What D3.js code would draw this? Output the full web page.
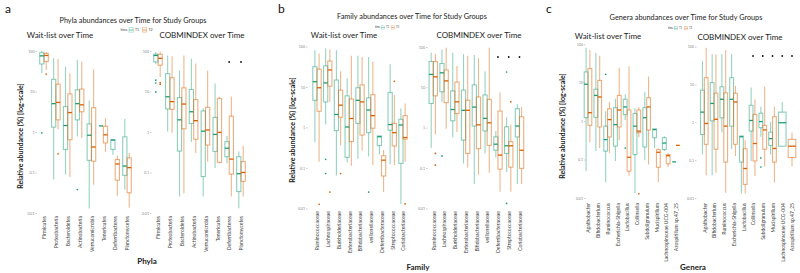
<!DOCTYPE html>
<html><head><meta charset="utf-8">
<script src="https://cdn.jsdelivr.net/npm/d3@7"></script>
<style>body{margin:0;background:#fff}svg{display:block}text{font-family:Lato,"Open Sans",sans-serif}</style>
</head><body><svg id="chart" width="800" height="273"></svg>
<script>
// ---- DATA (values are log10 of relative abundance in %: [whiskerLow, Q1, median, Q3, whiskerHigh]) ----
const yTickValues = [0.01, 0.1, 1, 10, 100];
const yTickLabels = ["0.01", "0.1", "1", "10", "100"];
const timeLabels = ["T1", "T2"];

const phylaCats = ["Firmicutes","Proteobacteria","Bacteroidetes","Actinobacteria","Verrucomicrobia","Tenericutes","Deferribacteres","Planctomycetes"];
const phylaWaitT1 = [[1.45,1.68,1.88,1.96,2.0],[-1.17,0.12,0.70,1.30,1.82],[-1.05,-0.43,0.16,0.63,1.61],[-0.11,0.30,0.70,1.04,1.78],[-1.89,-0.70,-0.08,0.20,0.78],[0.15,0.15,0.15,0.15,0.15],[-0.56,-0.43,-0.20,-0.19,-0.18],[-1.42,-1.07,-0.84,-0.12,0.32]];
const phylaWaitT2 = [[1.53,1.74,1.89,1.94,1.98],[0.06,0.30,0.73,1.18,1.80],[-1.11,-0.19,0.48,0.94,1.45],[-0.15,0.50,0.67,1.06,1.74],[-1.30,-0.72,-0.37,0.60,1.55],[-0.49,-0.27,-0.07,0.14,0.34],[-1.58,-1.19,-0.79,-0.68,-0.58],[-1.87,-1.50,-0.88,-0.64,-0.52]];
const phylaWaitOut = [[0,"T1",-0.02],[0,"T2",1.43],[1,"T2",-0.54],[3,"T1",-1.42]];
const phylaCobT1 = [[1.67,1.73,1.89,1.92,1.98],[0.01,0.57,0.87,1.44,1.89],[-1.59,-0.47,0.30,0.85,1.52],[-0.24,0.21,0.50,1.05,1.81],[-1.59,-1.10,0.02,0.52,0.58],[-0.89,-0.48,-0.06,0.36,1.20],[-0.77,-0.61,-0.40,-0.24,-0.10],[-1.88,-1.47,-1.03,-0.61,-0.48]];
const phylaCobT2 = [[1.36,1.65,1.82,1.92,1.98],[-0.02,0.56,0.75,1.34,1.87],[-1.51,0.08,0.69,1.09,1.89],[-0.52,-0.18,0.28,0.80,1.69],[-0.73,-0.32,0.05,0.61,1.51],[-0.77,-0.75,-0.01,0.83,0.87],[-1.59,-1.04,-0.67,0.39,0.87],[-1.59,-1.22,-1.00,-0.73,-0.34]];
const phylaCobOut = [[0,"T1",1.28],[0,"T1",1.21],[0,"T1",0.99],[0,"T2",1.22],[0,"T2",1.18]];
const phylaSig = ["Deferribacteres","Planctomycetes"];

const famCats = ["Ruminococcaceae","Lachnospiraceae","Burkholderiaceae","Enterobacteriaceae","Bifidobacteriaceae","veillonellaceae","Deferribacteraceae","Streptococcaceae","Coriobacteriaceae"];
const famWaitT1 = [[-0.37,0.67,1.13,1.50,1.91],[0.07,0.63,1.10,1.52,1.95],[-1.19,-0.08,0.32,1.17,1.91],[-0.87,-0.74,0.01,0.78,1.21],[-0.78,0.10,0.67,0.98,1.77],[-0.72,-0.13,0.43,0.73,1.74],[-0.67,-0.45,-0.23,-0.21,-0.21],[-0.91,-0.07,0.07,0.86,1.56],[-1.90,-0.89,0.06,0.20,0.47]];
const famWaitT2 = [[-0.85,0.40,0.98,1.44,1.83],[0.63,1.02,1.42,1.64,1.93],[-0.44,0.25,0.55,0.92,1.39],[-0.95,-0.35,0.22,0.70,1.77],[-0.58,-0.19,0.63,1.05,1.74],[-0.93,-0.02,0.29,0.81,1.62],[-1.60,-1.20,-0.81,-0.70,-0.56],[-0.93,-0.46,-0.13,0.10,0.80],[-0.85,-0.29,-0.25,0.29,0.59]];
const famWaitOut = [[0,"T2",-1.90],[1,"T1",-0.79],[1,"T1",-1.14],[1,"T2",-1.60],[2,"T2",-1.14],[5,"T1",-1.60],[7,"T2",1.14],[8,"T2",-1.89]];
const famCobT1 = [[-0.50,0.60,1.32,1.64,1.86],[0.64,0.89,1.36,1.59,1.94],[-0.23,0.17,0.45,0.91,1.86],[-0.89,-0.31,0.43,0.93,1.82],[-1.40,0.04,0.51,1.06,1.80],[-0.64,-0.08,0.23,0.81,1.40],[-0.74,-0.56,-0.41,-0.23,-0.08],[-1.10,-0.64,-0.45,0.02,0.26],[-1.40,-0.23,0.04,0.47,0.58]];
const famCobT2 = [[-0.17,0.79,1.26,1.64,1.83],[-0.03,0.62,1.16,1.43,1.98],[-0.11,0.35,0.64,1.13,1.53],[-0.99,-0.64,0.43,0.68,1.78],[-1.17,-0.52,0.07,0.76,1.72],[-1.12,-0.44,0.12,0.70,1.98],[-1.59,-1.03,-0.68,0.41,0.87],[-1.59,-0.98,-0.45,-0.35,0.07],[-1.40,-1.01,-0.56,0.27,0.51]];
const famCobOut = [[0,"T2",-0.64],[0,"T2",-0.93],[1,"T1",-0.70],[7,"T1",1.38],[7,"T1",-1.88],[7,"T2",0.64]];
const famSig = ["Deferribacteraceae","Streptococcaceae","Coriobacteriaceae"];

const genCats = ["Agathobacter","Bifidobacterium","Ruminococcus","Escherichia-Shigella","Lactobacillus","Collinsella","Subdoligranulum","Mucispirillum","Lachnospiraceae UCG-004","Azospirillum sp.47_25"];
const genWaitT1 = [[-1.30,0.09,0.96,1.28,1.91],[-0.78,0.10,0.67,0.83,1.78],[-1.59,-0.78,-0.48,-0.13,0.26],[-1.04,-0.65,-0.09,0.35,0.58],[0.03,0.17,0.37,0.57,0.70],[-1.87,-0.87,-0.13,0.20,0.35],[-1.02,-0.67,0.09,0.35,0.76],[-0.70,-0.43,-0.22,-0.20,-0.20],[-0.78,-0.74,-0.57,-0.43,-0.39],[-1.06,-1.06,-1.06,-1.06,-1.06]];
const genWaitT2 = [[-0.55,-0.11,0.22,1.37,1.85],[-0.70,-0.15,0.63,1.06,1.70],[-0.83,-0.41,0.04,0.32,0.50],[-0.50,-0.15,0.29,0.67,1.39],[-1.42,-1.30,-0.94,0.29,1.43],[-0.42,-0.30,-0.26,0.29,0.37],[-1.13,-0.23,0.37,0.61,1.16],[-1.59,-1.20,-0.81,-0.74,-0.71],[-1.19,-1.11,-0.90,-0.87,-0.83],[-0.63,-0.63,-0.63,-0.63,-0.63]];
const genWaitOut = [[2,"T1",1.22],[4,"T1",-0.70],[5,"T2",-1.89]];
const genCobT1 = [[-0.85,-0.32,0.27,0.85,1.62],[-1.40,0.04,0.50,1.05,1.80],[-0.27,0.12,0.61,0.94,1.80],[-0.71,-0.10,0.61,1.18,1.80],[-1.88,-1.05,-0.38,-0.36,-0.36],[-1.02,-0.23,0.05,0.45,0.92],[-0.38,-0.14,0.02,0.24,0.41],[-0.85,-0.61,-0.43,-0.26,0.01],[-0.64,-0.63,-0.01,0.27,0.54],null];
const genCobT2 = [[-1.40,-0.58,-0.03,1.18,1.97],[-1.33,-0.71,0.08,0.77,1.80],[-1.86,-1.05,-0.10,0.78,1.91],[-0.89,-0.58,0.54,0.77,0.96],[-1.88,-1.64,-1.22,-0.70,-0.47],[-1.42,-1.02,-0.56,0.21,0.61],[-1.17,-0.71,-0.20,-0.08,0.94],[-1.59,-1.05,-0.69,0.15,0.41],null,[-1.17,-0.93,-0.63,-0.45,-0.27]];
const genCobOut = [[6,"T1",-0.94],[6,"T1",-1.18]];
const genSig = ["Collinsella","Subdoligranulum","Mucispirillum","Lachnospiraceae UCG-004","Azospirillum sp.47_25"];

// ---- DRAWING ----
const svg = d3.select("#chart");
const color = d3.scaleOrdinal().domain(timeLabels).range(["#1b9e77", "#d95f02"]);
const FONT = 'Lato,"Open Sans",sans-serif';

function drawSub(cfg) {
  const x = d3.scalePoint().domain(cfg.cats).range(cfg.xr);
  const y = d3.scaleLog().domain([0.01, 100]).range(cfg.yr);
  const g = svg.append("g");
  const val = v => y(Math.pow(10, v));

  const ya = g.append("g").attr("transform", `translate(${cfg.axisX},0)`)
    .call(d3.axisLeft(y).tickValues(yTickValues).tickFormat((d, i) => yTickLabels[i]).tickSize(1.5).tickPadding(1));
  ya.select(".domain").remove();
  ya.selectAll("line").attr("stroke", "#999").attr("stroke-width", 0.5);
  ya.selectAll("text").attr("font-size", 3.6).attr("fill", "#888").attr("font-family", FONT);

  const xa = g.append("g").attr("transform", `translate(0,${cfg.labelY})`)
    .call(d3.axisBottom(x).tickSize(0).tickPadding(0));
  xa.select(".domain").remove();
  xa.selectAll("text").attr("transform", "rotate(-90)").attr("text-anchor", "end")
    .attr("x", 0).attr("y", 0).attr("dy", "0.35em")
    .attr("font-size", cfg.labelSize).attr("fill", "#444").attr("font-family", FONT);

  const series = [["T1", cfg.t1], ["T2", cfg.t2]];
  series.forEach(([t, arr]) => {
    const other = t === "T1" ? cfg.t2 : cfg.t1;
    arr.forEach((b, i) => {
      if (!b) return;
      const single = !other[i];
      const w = single ? cfg.w * 2 : cfg.w;
      const cx = x(cfg.cats[i]) + (single ? 0 : (t === "T1" ? -cfg.dodge : cfg.dodge));
      const c = color(t);
      const bg = g.append("g");
      bg.append("line").attr("x1", cx).attr("x2", cx).attr("y1", val(b[3])).attr("y2", val(b[4]))
        .attr("stroke", c).attr("stroke-opacity", 0.45).attr("stroke-width", 1.1);
      bg.append("line").attr("x1", cx).attr("x2", cx).attr("y1", val(b[1])).attr("y2", val(b[0]))
        .attr("stroke", c).attr("stroke-opacity", 0.45).attr("stroke-width", 1.1);
      bg.append("rect").attr("x", cx - w / 2).attr("width", w)
        .attr("y", val(b[3])).attr("height", Math.max(0, val(b[1]) - val(b[3])))
        .attr("fill", "none").attr("stroke", c).attr("stroke-opacity", 0.5).attr("stroke-width", 1.1);
      bg.append("line").attr("x1", cx - w / 2).attr("x2", cx + w / 2).attr("y1", val(b[2])).attr("y2", val(b[2]))
        .attr("stroke", c).attr("stroke-width", 1.3);
    });
  });
  g.selectAll("circle.out").data(cfg.out).enter().append("circle")
    .attr("cx", d => x(cfg.cats[d[0]]) + (d[1] === "T1" ? -cfg.dodge : cfg.dodge))
    .attr("cy", d => val(d[2])).attr("r", 0.85).attr("fill", d => color(d[1]));
  g.selectAll("circle.sig").data(cfg.sig).enter().append("circle")
    .attr("cx", d => x(d)).attr("cy", cfg.sigY).attr("r", 0.9).attr("fill", "#111");
}

function legend(x0, y0, s) {
  const g = svg.append("g").attr("transform", `translate(${x0},${y0}) scale(${s})`);
  g.append("text").attr("x", 0).attr("y", 1.3).attr("font-size", 3.6).attr("fill", "#444").text("time");
  timeLabels.forEach((t, i) => {
    const kx = 8.5 + i * 13.5;
    g.append("rect").attr("x", kx).attr("y", -2.3).attr("width", 4.2).attr("height", 4.4)
      .attr("fill", "none").attr("stroke", color(t)).attr("stroke-opacity", 0.5).attr("stroke-width", 0.6);
    g.append("line").attr("x1", kx).attr("x2", kx + 4.2).attr("y1", 0).attr("y2", 0).attr("stroke", color(t)).attr("stroke-width", 0.6);
    g.append("text").attr("x", kx + 6).attr("y", 1.3).attr("font-size", 3.6).attr("fill", "#444").text(t);
  });
}

function txt(x, y, s, size, opts = {}) {
  const t = svg.append("text").attr("x", x).attr("y", y).attr("font-size", size)
    .attr("text-anchor", opts.anchor || "middle").attr("fill", opts.fill || "#222")
    .attr("font-weight", opts.weight || "normal").text(s);
  if (opts.rotate) t.attr("transform", `rotate(-90,${x},${y})`);
  return t;
}

// Panel a
drawSub({cats: phylaCats, t1: phylaWaitT1, t2: phylaWaitT2, out: phylaWaitOut, sig: [], xr: [44, 127], yr: [213, 51], axisX: 37, w: 4.2, dodge: 2.2, labelY: 216, labelSize: 5, sigY: 62});
drawSub({cats: phylaCats, t1: phylaCobT1, t2: phylaCobT2, out: phylaCobOut, sig: phylaSig, xr: [158, 241], yr: [213, 51], axisX: 151.5, w: 4.2, dodge: 2.2, labelY: 216, labelSize: 5, sigY: 62});
txt(5, 13, "a", 12, {anchor: "start", fill: "#111"});
txt(133, 23, "Phyla abundances over Time for Study Groups", 7.3);
txt(60, 38, "Wait-list over Time", 8);
txt(202, 38, "COBMINDEX over Time", 8);
legend(120.5, 30, 1);
txt(23, 136, "Relative abundance (%) [log-scale]", 7, {rotate: true, weight: "bold"});
txt(147, 264, "Phyla", 8, {weight: "bold"});

// Panel b
drawSub({cats: famCats, t1: famWaitT1, t2: famWaitT2, out: famWaitOut, sig: [], xr: [317, 403], yr: [208.3, 46.5], axisX: 307.5, w: 4.2, dodge: 2.1, labelY: 211, labelSize: 5, sigY: 57});
drawSub({cats: famCats, t1: famCobT1, t2: famCobT2, out: famCobOut, sig: famSig, xr: [433.3, 519.5], yr: [208.3, 47], axisX: 427.5, w: 4.2, dodge: 2.1, labelY: 211, labelSize: 5, sigY: 57});
txt(278, 13, "b", 12, {anchor: "start", fill: "#111"});
txt(412, 18.5, "Family abundances over Time for Study Groups", 7.3);
txt(344, 38, "Wait-list over Time", 8);
txt(479, 38, "COBMINDEX over Time", 8);
legend(375, 27.5, 0.75);
txt(295, 130, "Relative abundance (%) [log-scale]", 7, {rotate: true, weight: "bold"});
txt(418, 270, "Family", 8, {weight: "bold"});

// Panel c
drawSub({cats: genCats, t1: genWaitT1, t2: genWaitT2, out: genWaitOut, sig: [], xr: [588, 676], yr: [198, 44.3], axisX: 585.5, w: 3.8, dodge: 1.9, labelY: 203, labelSize: 5, sigY: 56});
drawSub({cats: genCats, t1: genCobT1, t2: genCobT2, out: genCobOut, sig: genSig, xr: [704.3, 792], yr: [198, 46.7], axisX: 696.5, w: 3.8, dodge: 1.9, labelY: 203, labelSize: 5, sigY: 56});
txt(546, 13, "c", 12, {anchor: "start", fill: "#111"});
txt(686, 19.5, "Genera abundances over Time for Study Groups", 7.3);
txt(608, 39, "Wait-list over Time", 8);
txt(740, 40, "COBMINDEX over Time", 8);
legend(668, 28.3, 0.75);
txt(565, 126, "Relative abundance (%) [log-scale]", 7, {rotate: true, weight: "bold"});
txt(693, 270, "Genera", 8, {weight: "bold"});
</script></body></html>
